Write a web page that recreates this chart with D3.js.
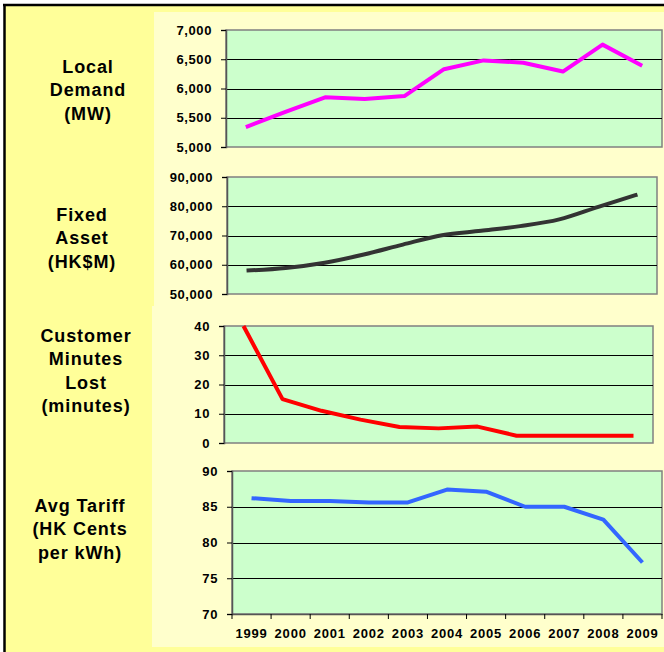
<!DOCTYPE html>
<html>
<head>
<meta charset="utf-8">
<script src="https://cdn.jsdelivr.net/npm/d3@7/dist/d3.min.js"></script>
<style>
  html, body { margin: 0; padding: 0; background: #ffffff; }
  svg { display: block; }
  text { font-family: Arial, "Liberation Sans", sans-serif; font-weight: bold; fill: #000; }
</style>
</head>
<body>
<svg id="chart" width="664" height="652"></svg>
<script>
// Years on the shared category axis
const years = ["1999", "2000", "2001", "2002", "2003", "2004", "2005", "2006", "2007", "2008", "2009"];

// Series values
const localDemand = [5340, 5600, 5850, 5820, 5870, 6330, 6480, 6440, 6290, 6750, 6390];
const fixedAsset = [58000, 58900, 60700, 63500, 66900, 70100, 71600, 73200, 75500, 79800, 84000];
const minutesLost = [40, 15, 11, 8, 5.5, 5, 5.6, 2.5, 2.5, 2.5, 2.5];
const avgTariff = [86.2, 85.8, 85.8, 85.6, 85.6, 87.4, 87.1, 85.0, 85.0, 83.2, 77.2];

// Y-axis ticks per panel
const demandTicks = [5000, 5500, 6000, 6500, 7000];
const assetTicks = [50000, 60000, 70000, 80000, 90000];
const minutesTicks = [0, 10, 20, 30, 40];
const tariffTicks = [70, 75, 80, 85, 90];

// Row titles
const demandTitle = ["Local", "Demand", "(MW)"];
const assetTitle = ["Fixed", "Asset", "(HK$M)"];
const minutesTitle = ["Customer", "Minutes", "Lost", "(minutes)"];
const tariffTitle = ["Avg Tariff", "(HK Cents", "per kWh)"];

const svg = d3.select("#chart");

// Backdrop: yellow sheet with a black frame on the top and left
svg.append("rect").attr("x", 4).attr("y", 5).attr("width", 660).attr("height", 647).attr("fill", "#ffff99");
svg.append("rect").attr("x", 154).attr("y", 12).attr("width", 510).attr("height", 294).attr("fill", "#ffffcc");
svg.append("rect").attr("x", 152).attr("y", 306).attr("width", 512).attr("height", 341).attr("fill", "#ffffcc");
svg.append("line").attr("x1", 3).attr("x2", 664).attr("y1", 5).attr("y2", 5).attr("stroke", "#000").attr("stroke-width", 2.5);
svg.append("line").attr("x1", 4.5).attr("x2", 4.5).attr("y1", 4).attr("y2", 652).attr("stroke", "#000").attr("stroke-width", 2.5);

const panels = [
  { values: localDemand, ticks: demandTicks, title: demandTitle, color: "#ff00ff",
    left: 226, right: 662, top: 30, bottom: 147, curve: d3.curveLinear,
    titleX: 88, titleY: 90, fmt: d3.format(",") },
  { values: fixedAsset, ticks: assetTicks, title: assetTitle, color: "#333333",
    left: 227, right: 657, top: 177, bottom: 294, curve: d3.curveMonotoneX,
    titleX: 82, titleY: 238, fmt: d3.format(",") },
  { values: minutesLost, ticks: minutesTicks, title: minutesTitle, color: "#ff0000",
    left: 224, right: 653, top: 326, bottom: 443, curve: d3.curveLinear,
    titleX: 86, titleY: 370.5, fmt: d3.format("d") },
  { values: avgTariff, ticks: tariffTicks, title: tariffTitle, color: "#3366ff",
    left: 232, right: 662, top: 471, bottom: 614, curve: d3.curveLinear,
    titleX: 80, titleY: 529, fmt: d3.format("d"), showX: true }
];

panels.forEach(p => {
  const x = d3.scaleBand().domain(years).range([p.left, p.right]);
  const y = d3.scaleLinear().domain(d3.extent(p.ticks)).range([p.bottom, p.top]);
  const g = svg.append("g");

  // Plot area
  g.append("rect")
    .attr("x", p.left).attr("y", p.top)
    .attr("width", p.right - p.left).attr("height", p.bottom - p.top)
    .attr("fill", "#ccffcc").attr("stroke", "#808080").attr("stroke-width", 1.5);

  // Horizontal gridlines
  g.selectAll(".grid").data(p.ticks.slice(1, -1)).join("line")
    .attr("x1", p.left).attr("x2", p.right)
    .attr("y1", d => Math.round(y(d)) + 0.5).attr("y2", d => Math.round(y(d)) + 0.5)
    .attr("stroke", "#000").attr("stroke-width", 1);

  // Y axis
  const yAxis = d3.axisLeft(y).tickValues(p.ticks).tickFormat(p.fmt).tickSize(5).tickPadding(9);
  const ya = g.append("g").attr("transform", `translate(${p.left},0)`).call(yAxis);
  ya.select(".domain").attr("stroke", "#555").attr("stroke-width", 1.5);
  ya.selectAll(".tick line").attr("stroke", "#000");
  ya.selectAll(".tick text")
    .style("font-size", "13px").style("font-weight", "bold")
    .style("font-family", "Arial, 'Liberation Sans', sans-serif")
    .attr("letter-spacing", "0.6").attr("fill", "#000");

  // X axis (bottom panel only)
  if (p.showX) {
    const xAxis = d3.axisBottom(x).tickSize(0).tickPadding(15);
    const xa = g.append("g").attr("transform", `translate(0,${p.bottom})`).call(xAxis);
    xa.select(".domain").attr("stroke", "#555").attr("stroke-width", 1.5);
    xa.selectAll(".tick text")
      .style("font-size", "13px").style("font-weight", "bold")
      .style("font-family", "Arial, 'Liberation Sans', sans-serif")
      .attr("letter-spacing", "0.8").attr("fill", "#000");
    // Boundary tick marks between categories
    const bounds = years.map(d => x(d)).concat([p.right]);
    g.selectAll(".xtick").data(bounds).join("line")
      .attr("x1", d => d).attr("x2", d => d)
      .attr("y1", p.bottom).attr("y2", p.bottom + 5)
      .attr("stroke", "#000").attr("stroke-width", 1);
  }

  // Series line
  const line = d3.line()
    .x((d, i) => x(years[i]) + x.bandwidth() / 2)
    .y(d => y(d))
    .curve(p.curve);
  g.append("path").datum(p.values)
    .attr("d", line)
    .attr("fill", "none")
    .attr("stroke", p.color)
    .attr("stroke-width", 4)
    .attr("stroke-linejoin", "round");

  // Row title
  const n = p.title.length;
  const lh = 23.5;
  svg.append("text")
    .attr("text-anchor", "middle")
    .style("font-size", "18px")
    .attr("letter-spacing", "0.9")
    .selectAll("tspan").data(p.title).join("tspan")
    .attr("x", p.titleX)
    .attr("y", (d, i) => p.titleY + (i - (n - 1) / 2) * lh)
    .attr("dy", "0.35em")
    .text(d => d);
});
</script>
</body>
</html>
